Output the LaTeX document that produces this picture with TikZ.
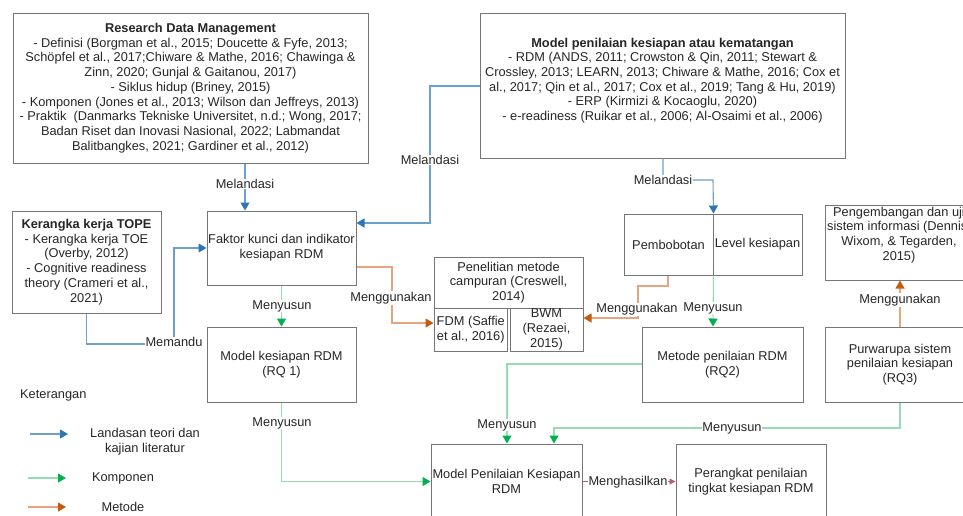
\documentclass[tikz,border=0pt]{standalone}
\usepackage{fontspec}
\setmainfont{Liberation Sans}
\usetikzlibrary{arrows.meta}
\definecolor{txt}{RGB}{38,38,38}
\definecolor{frame}{RGB}{118,118,118}
\definecolor{blueline}{RGB}{108,160,205}
\definecolor{bluehead}{RGB}{46,117,182}
\definecolor{greenline}{RGB}{146,222,178}
\definecolor{greenhead}{RGB}{0,176,80}
\definecolor{orangeline}{RGB}{230,165,125}
\definecolor{orangehead}{RGB}{197,90,17}
\definecolor{pinkline}{RGB}{176,96,128}
\begin{document}
\begin{tikzpicture}[x=1pt,y=-1pt,
  every node/.style={font=\fontsize{12.8}{14.7}\selectfont, text=txt},
  box/.style={draw=frame, line width=1pt, inner sep=0pt, align=center},
  lbl/.style={fill=white, inner sep=0.6pt},
  plain/.style={inner sep=0pt, align=center},
  bluearr/.style={draw=blueline, line width=1.1pt, -{Triangle[length=8pt,width=9pt,color=bluehead]}},
  greenarr/.style={draw=greenline, line width=1.1pt, -{Triangle[length=8pt,width=9pt,color=greenhead]}},
  orangearr/.style={draw=orangeline, line width=1.1pt, -{Triangle[length=8pt,width=9pt,color=orangehead]}},
  pinkarr/.style={draw=pinkline, line width=0.9pt, -{Triangle[length=6pt,width=6pt,color=pinkline]}}]
\useasboundingbox (0,0) rectangle (963,515);
\clip (0,0) rectangle (963,515);

% ---- literature boxes ----
\node[box, minimum width=355pt, minimum height=150pt] (rdm) at (190.5,88)
  {\textbf{Research Data Management}\\
   - Definisi (Borgman et al., 2015; Doucette \& Fyfe, 2013;\\
   Schöpfel et al., 2017;Chiware \& Mathe, 2016; Chawinga \&\\
   Zinn, 2020; Gunjal \& Gaitanou, 2017)\\
   - Siklus hidup (Briney, 2015)\\
   - Komponen (Jones et al., 2013; Wilson dan Jeffreys, 2013)\\
   - Praktik~ (Danmarks Tekniske Universitet, n.d.; Wong, 2017;\\
   Badan Riset dan Inovasi Nasional, 2022; Labmandat\\
   Balitbangkes, 2021; Gardiner et al., 2012)};

\node[box, minimum width=365pt, minimum height=145pt] (mpk) at (662.5,85.5) {};
\node[plain] (mpktxt) at (662.5,80.5)
  {\textbf{Model penilaian kesiapan atau kematangan}\\
   - RDM (ANDS, 2011; Crowston \& Qin, 2011; Stewart \&\\
   Crossley, 2013; LEARN, 2013; Chiware \& Mathe, 2016; Cox et\\
   al., 2017; Qin et al., 2017; Cox et al., 2019; Tang \& Hu, 2019)\\
   - ERP (Kirmizi \& Kocaoglu, 2020)\\
   - e-readiness (Ruikar et al., 2006; Al-Osaimi et al., 2006)};

\node[box, minimum width=149pt, minimum height=102pt] (tope) at (86.5,262)
  {\textbf{Kerangka kerja TOPE}\\
   - Kerangka kerja TOE\\
   (Overby, 2012)\\
   - Cognitive readiness\\
   theory (Crameri et al.,\\
   2021)};

% ---- research flow boxes ----
\node[box, minimum width=149pt, minimum height=74pt] (faktor) at (281.5,248)
  {Faktor kunci dan indikator\\kesiapan RDM};
\node[box, minimum width=149pt, minimum height=75pt] (mk) at (281.5,364.5)
  {Model kesiapan RDM\\(RQ 1)};

\node[box, minimum width=149pt, minimum height=51pt] (mix) at (508.5,282.5)
  {Penelitian metode\\campuran (Creswell,\\2014)};
\node[box, minimum width=73.5pt, minimum height=43pt] (fdm) at (470.75,329.5)
  {FDM (Saffie\\et al., 2016)};
\node[box, minimum width=73pt, minimum height=43pt] (bwm) at (546.5,329.5)
  {BWM\\(Rezaei,\\2015)};

\node[box, minimum width=89pt, minimum height=61pt] (pemb) at (668.5,244.5) {Pembobotan};
\node[box, minimum width=89pt, minimum height=61pt] (level) at (757.5,244.5) {Level kesiapan};

\node[box, minimum width=161pt, minimum height=75pt] (metode) at (722.5,364.5)
  {Metode penilaian RDM\\(RQ2)};
\node[box, minimum width=150pt, minimum height=75pt] (pur) at (900,364.5)
  {Purwarupa sistem\\penilaian kesiapan\\(RQ3)};
\node[box, minimum width=150pt, minimum height=75pt] (peng) at (900,242.5) {};
\node[plain] (pengtxt) at (899,235)
  {Pengembangan dan uji\\sistem informasi (Dennis,\\Wixom, \& Tegarden,\\2015)};

\node[box, minimum width=151pt, minimum height=75pt] (mpen) at (506.5,481.5)
  {Model Penilaian Kesiapan\\RDM};
\node[box, minimum width=150pt, minimum height=75pt] (per) at (751,481.5)
  {Perangkat penilaian\\tingkat kesiapan RDM};

% ---- connectors ----
\draw[bluearr] (245,0 |- rdm.south) -- (245,0 |- faktor.north);
\draw[bluearr] (mpk.west |- 0,86) -- (430,86) -- (430,223) -- (faktor.east |- 0,223);
\draw[bluearr] (663,0 |- mpk.south) -- (663,180) -- (713,180) -- (pemb.north east);
\draw[bluearr] (tope.south) |- (174,344) -- (174,248) -- (faktor.west |- 0,248);

\draw[greenarr] (faktor.south) -- (mk.north);
\draw[greenarr] (mk.south) |- (mpen.west);
\draw[greenarr] (pemb.south east) -- (713,0 |- metode.north);
\draw[greenarr] (metode.west |- 0,364) -| (507,0 |- mpen.north);
\draw[greenarr] (900,0 |- pur.south) |- (554,428) -- (554,0 |- mpen.north);

\draw[orangearr] (faktor.east |- 0,267) -- (392,267) -- (392,323) -- (fdm.west |- 0,323);
\draw[orangearr] (668,0 |- pemb.south) -- (668,286) -- (638,286) -- (638,318) -- (bwm.east |- 0,318);
\draw[orangearr] (900,0 |- pur.north) -- (900,0 |- peng.south);

\draw[pinkarr] (mpen.east) -- (per.west);

% ---- connector labels ----
\node[lbl] (l1) at (245,184) {Melandasi};
\node[lbl] (l2) at (430,160) {Melandasi};
\node[lbl] (l3) at (663,180) {Melandasi};
\node[lbl] (l4) at (174,342) {Memandu};
\node[lbl] (l5) at (282,306) {Menyusun};
\node[lbl] (l6) at (282,423) {Menyusun};
\node[lbl] (l7) at (391,298) {Menggunakan};
\node[lbl] (l8) at (637,309.5) {Menggunakan};
\node[lbl] (l9) at (713,308) {Menyusun};
\node[lbl] (l10) at (507,425) {Menyusun};
\node[lbl] (l11) at (732,428) {Menyusun};
\node[lbl] (l12) at (628,482) {Menghasilkan};
\node[lbl] (l13) at (900,300) {Menggunakan};

% ---- legend ----
\node[anchor=west, inner sep=0pt] (ket) at (20,395) {Keterangan};
\coordinate (lb1) at (30,434);  \coordinate (lb2) at (68,434);
\coordinate (lg1) at (28,478);  \coordinate (lg2) at (66,478);
\coordinate (lo1) at (28,507);  \coordinate (lo2) at (66,507);
\draw[bluearr] (lb1) -- (lb2);
\draw[greenarr] (lg1) -- (lg2);
\draw[orangearr] (lo1) -- (lo2);
\node[plain] (ltxt1) at (145,442) {Landasan teori dan\\kajian literatur};
\node[plain] (ltxt2) at (123,478) {Komponen};
\node[plain] (ltxt3) at (123,507) {Metode};
\end{tikzpicture}
\end{document}
